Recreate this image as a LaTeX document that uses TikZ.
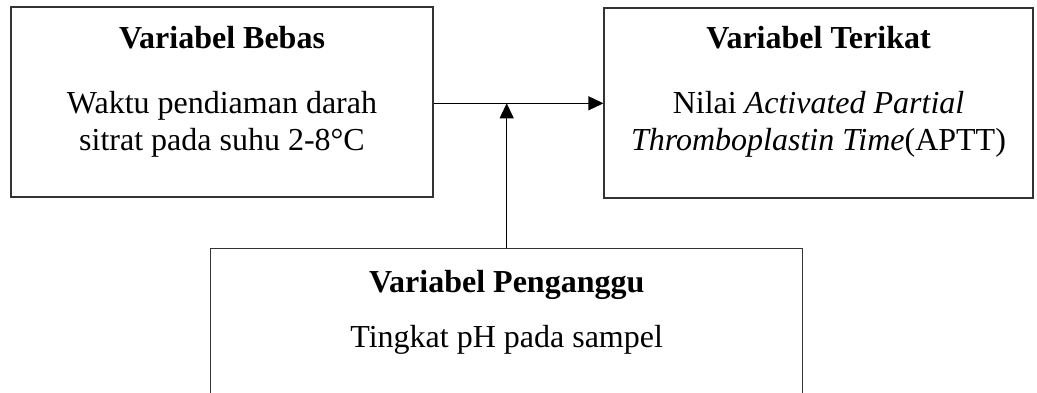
\documentclass[tikz,border=0pt]{standalone}
\usepackage{fontspec}
\setmainfont{Liberation Serif}
\usetikzlibrary{arrows.meta}
\begin{document}
\begin{tikzpicture}[x=1pt,y=1pt,
  varbox/.style={draw=black!80,line width=1.2pt,rectangle,inner sep=0pt},
  headtxt/.style={anchor=base,inner sep=0pt,font=\fontsize{32}{37}\selectfont\bfseries},
  bodytxt/.style={anchor=base,inner sep=0pt,font=\fontsize{32}{37}\selectfont},
  link/.style={draw=black,line width=1.2pt,-{Triangle[length=15pt,width=14pt]}}]
\useasboundingbox (0,0) rectangle (1037,-392);
\clip (0,0) rectangle (1037,-392);

% boxes
\node[varbox,minimum width=422pt,minimum height=190pt] (bebas) at (222,-102) {};
\node[varbox,minimum width=429pt,minimum height=190pt] (terikat) at (818.5,-103) {};
\node[varbox,minimum width=592pt,minimum height=152pt] (ganggu) at (506.7,-324.3) {};

% texts of the independent variable
\node[headtxt] (bebasT) at (222,-48) {Variabel Bebas};
\node[bodytxt] (bebasA) at (222,-113) {Waktu pendiaman darah};
\node[bodytxt] (bebasB) at (222,-150) {sitrat pada suhu 2-8°C};

% texts of the dependent variable
\node[headtxt] (terikatT) at (818.5,-48) {Variabel Terikat};
\node[bodytxt] (terikatA) at (818.5,-113) {Nilai \textit{Activated Partial}};
\node[bodytxt] (terikatB) at (818.5,-150) {\textit{Thromboplastin Time}(APTT)};

% texts of the confounding variable
\node[headtxt] (gangguT) at (506.7,-292) {Variabel Penganggu};
\node[bodytxt] (gangguA) at (506.7,-347) {Tingkat pH pada sampel};

% connectors
\coordinate (j) at (506.7,-103.3);
\draw[link] (bebas.east |- j) -- (terikat.west |- j);
\draw[link] (ganggu.north) -- (j);
\end{tikzpicture}
\end{document}
